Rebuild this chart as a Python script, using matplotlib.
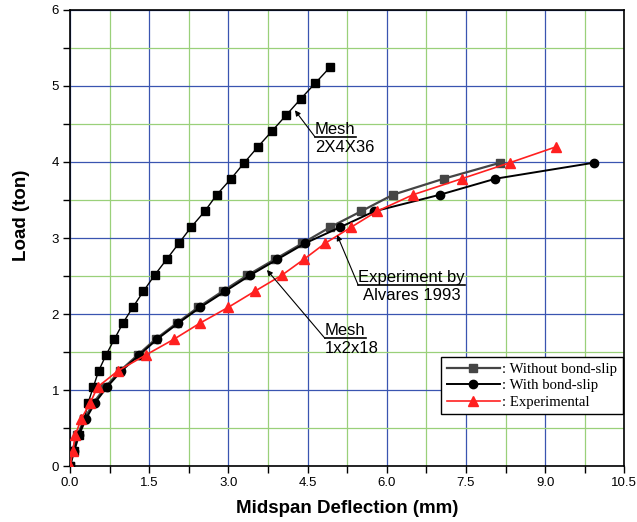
import matplotlib
matplotlib.use("Agg")
import matplotlib.pyplot as plt
from matplotlib.ticker import MultipleLocator, FormatStrFormatter

# load steps (ton)
load = [0.0, 0.2, 0.41, 0.62, 0.83, 1.04, 1.25, 1.46, 1.67, 1.88, 2.09, 2.3, 2.51,
        2.72, 2.93, 3.14, 3.35, 3.57, 3.78, 3.99, 4.2, 4.41, 4.62, 4.83, 5.04, 5.25]

# mesh 2X4X36 (without bond-slip)
defl_fine = [0.0, 0.07, 0.16, 0.27, 0.34, 0.44, 0.54, 0.68, 0.84, 1.0, 1.19, 1.39, 1.6,
             1.83, 2.06, 2.29, 2.55, 2.78, 3.05, 3.3, 3.56, 3.83, 4.1, 4.37, 4.65, 4.93]

# mesh 1x2x18
defl_no_slip = [0.0, 0.04, 0.14, 0.27, 0.44, 0.67, 0.94, 1.28, 1.62, 2.02, 2.43, 2.89,
                3.36, 3.88, 4.4, 4.92, 5.51, 6.12, 7.08, 8.15]
defl_slip = [0.0, 0.08, 0.17, 0.3, 0.47, 0.7, 0.97, 1.31, 1.65, 2.05, 2.47, 2.94,
             3.41, 3.93, 4.45, 5.11, 5.76, 7.01, 8.06, 9.92]

# Alvares 1993
defl_exp = [0.0, 0.05, 0.1, 0.21, 0.38, 0.52, 0.9, 1.43, 1.97, 2.46, 3.0, 3.5, 4.01,
            4.43, 4.83, 5.32, 5.81, 6.5, 7.42, 8.33, 9.21]

labels = [": Without bond-slip", ": With bond-slip", ": Experimental"]

fig = plt.figure(figsize=(6.37, 5.22), dpi=100)
ax = fig.add_axes([0.110, 0.107, 0.870, 0.874])

ax.plot(defl_fine, load[:len(defl_fine)], color="black", lw=1.0, marker="s", ms=5.5, zorder=4)
l1, = ax.plot(defl_no_slip, load[:len(defl_no_slip)], color="#454545", lw=1.6,
              marker="s", ms=5.5, zorder=3)
l2, = ax.plot(defl_slip, load[:len(defl_slip)], color="black", lw=1.4,
              marker="o", ms=6, zorder=4)
l3, = ax.plot(defl_exp, load[:len(defl_exp)], color="#ff2020", lw=1.2,
              marker="^", ms=6.5, zorder=5)

ax.set_xlim(0, 10.5)
ax.set_ylim(0, 6)
ax.xaxis.set_major_locator(MultipleLocator(1.5))
ax.xaxis.set_minor_locator(MultipleLocator(0.75))
ax.yaxis.set_major_locator(MultipleLocator(1))
ax.yaxis.set_minor_locator(MultipleLocator(0.5))
ax.xaxis.set_major_formatter(FormatStrFormatter("%.1f"))
ax.grid(True, which="major", color="#3a55b0", lw=0.9, zorder=0)
ax.grid(True, which="minor", color="#9ad07a", lw=0.9, zorder=0)
ax.set_axisbelow(True)
ax.tick_params(which="both", direction="out", length=5, width=1, top=False, right=False,
               labelsize=9.5, pad=3)
for s in ax.spines.values():
    s.set_linewidth(1.2)

ax.set_xlabel("Midspan Deflection (mm)", fontsize=13.5, fontweight="bold",
              family="Liberation Sans", labelpad=8)
ax.set_ylabel("Load (ton)", fontsize=13.5, fontweight="bold",
              family="Liberation Sans")
ax.yaxis.set_label_coords(-0.072, 0.55)
for t in ax.get_xticklabels() + ax.get_yticklabels():
    t.set_family("Liberation Sans")

# annotations with underlined first line
notes = [
    ("Mesh", "2X4X36", (4.64, 4.33), (4.26, 4.68)),
    ("Mesh", "1x2x18", (4.83, 1.68), (3.73, 2.58)),
    ("Experiment by", "Alvares 1993", (5.46, 2.38), (5.06, 3.04)),
]
fig.canvas.draw()
renderer = fig.canvas.get_renderer()
for head, sub, (tx, ty), (ax_, ay_) in notes:
    t1 = ax.text(tx, ty, head, fontsize=12, family="Liberation Sans",
                 ha="left", va="bottom", zorder=6)
    bb = t1.get_window_extent(renderer)
    inv = ax.transData.inverted()
    x1 = inv.transform((bb.x1, bb.y0))[0]
    ax.plot([tx, x1], [ty, ty], color="black", lw=1.2, zorder=6)
    xc = (tx + x1) / 2 if head != "Mesh" else tx
    ax.text(xc, ty - 0.04, sub, fontsize=12, family="Liberation Sans",
            ha="center" if head != "Mesh" else "left", va="top", zorder=6)
    ax.annotate("", xy=(ax_, ay_), xytext=(tx, ty),
                arrowprops=dict(arrowstyle="-|>", lw=0.8, color="black",
                                mutation_scale=8, shrinkA=0, shrinkB=0), zorder=6)

leg = ax.legend([l1, l2, l3], labels, loc="lower right", bbox_to_anchor=(0.997, 0.114),
                prop={"family": "Liberation Serif", "size": 10.6}, handlelength=3.6,
                handletextpad=0.2, borderpad=0.35, labelspacing=0.22, borderaxespad=0,
                frameon=True, fancybox=False, framealpha=1, edgecolor="black")
leg.get_frame().set_linewidth(1.0)

fig.savefig("out.png", dpi=100)
